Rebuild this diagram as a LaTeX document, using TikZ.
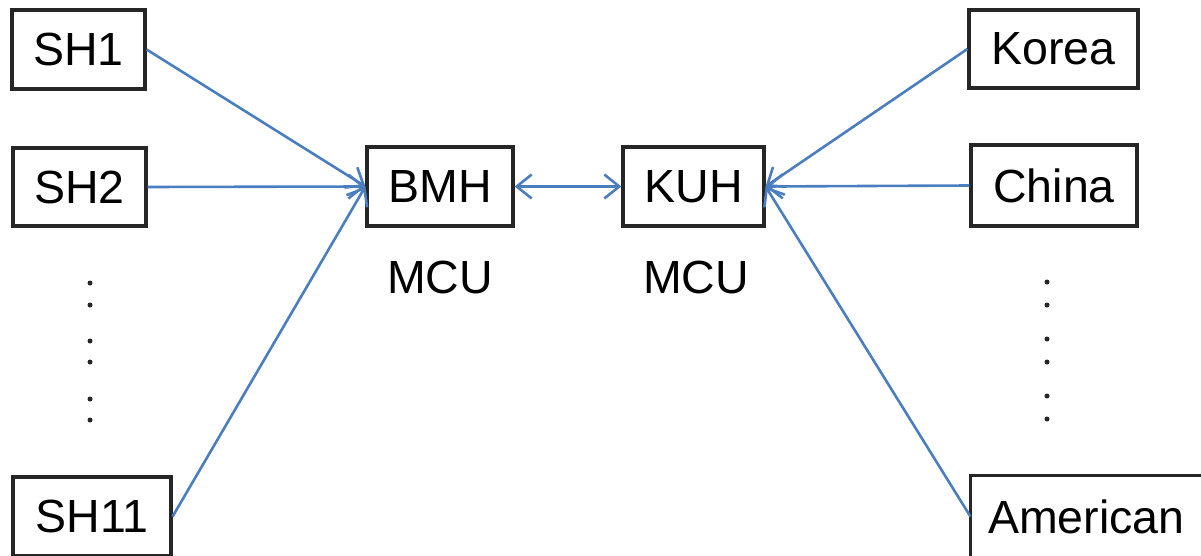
\documentclass[tikz,border=0pt]{standalone}
\usepackage{fontspec}
\setmainfont{Liberation Sans}
\usetikzlibrary{arrows.meta}
\definecolor{linkblue}{RGB}{74,126,193}
\begin{document}
\begin{tikzpicture}[x=1pt,y=1pt,
  boxline/.style={draw=black!85,line width=3.2pt},
  box/.style={boxline,inner sep=0pt,font=\fontsize{46.5}{56}\selectfont},
  lbl/.style={inner sep=0pt,font=\fontsize{46.5}{56}\selectfont},
  link/.style={draw=linkblue,line width=2.6pt,-{Straight Barb[length=15pt,width=24pt,line width=2.6pt]}},
  dotmark/.style={fill=black!85,circle,inner sep=0pt,minimum size=5pt}]
\useasboundingbox (0,0) rectangle (1201,555);
\clip (0,0) rectangle (1201,555);
% left column
\node[box,minimum width=133pt,minimum height=79pt] (sh1) at (78.5,505.5) {SH1};
\node[box,minimum width=133pt,minimum height=78pt] (sh2) at (79.5,368) {SH2};
\node[box,minimum width=158pt,minimum height=79pt] (sh11) at (92,38.5) {SH11};
% middle
\node[box,minimum width=146pt,minimum height=79pt] (bmh) at (440,368.5) {BMH};
\node[box,minimum width=141pt,minimum height=79pt] (kuh) at (693.5,368.5) {KUH};
\node[lbl] (mcu1) at (440,277.5) {MCU};
\node[lbl] (mcu2) at (696,277.5) {MCU};
% right column
\node[box,minimum width=169pt,minimum height=78pt] (korea) at (1053.5,506) {Korea};
\node[box,minimum width=166pt,minimum height=81pt] (china) at (1054,369.5) {China};
\node[box,draw=none,minimum width=229pt,minimum height=79pt,text width=211pt,align=left] (amer) at (1086.5,38.5) {\hspace*{7pt}American};
\draw[boxline] ([xshift=30pt]amer.north east) -- (amer.north west) -- (amer.south west) -- ([xshift=30pt]amer.south east);
% dots
\foreach \i/\y in {1/272,2/250,3/214,4/193,5/156,6/135}{
  \node[dotmark] (ldot\i) at (90,\y) {};
}
\foreach \i/\y in {1/273,2/250,3/216,4/193,5/159,6/136}{
  \node[dotmark] (rdot\i) at (1047,\y) {};
}
% connectors
\draw[link] (sh1.east) -- (bmh.west);
\draw[link] (sh2.east) -- (bmh.west);
\draw[link] (sh11.east) -- (bmh.west);
\draw[link] (korea.west) -- (kuh.east);
\draw[link] (china.west) -- (kuh.east);
\draw[link] (amer.west) -- (kuh.east);
\draw[link,{Straight Barb[length=15pt,width=24pt,line width=2.6pt]}-{Straight Barb[length=15pt,width=24pt,line width=2.6pt]}] (bmh.east) -- (kuh.west);
\end{tikzpicture}
\end{document}
